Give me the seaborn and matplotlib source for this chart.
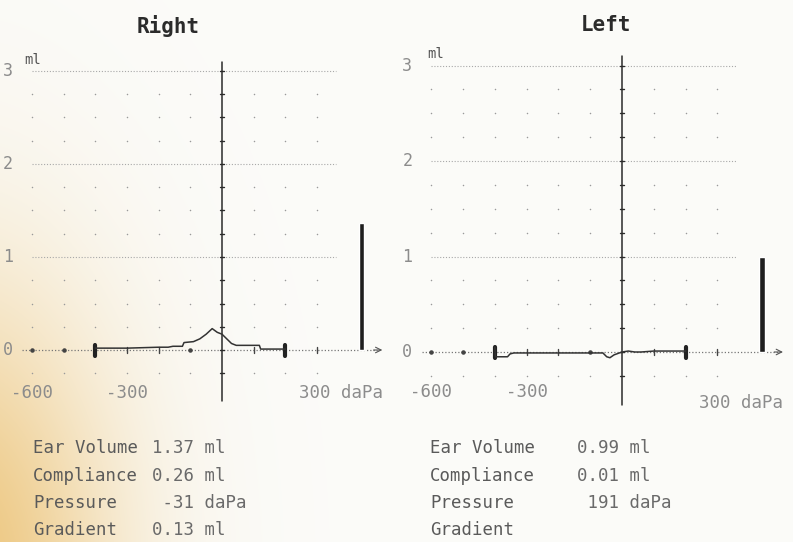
import numpy as np
import pandas as pd
import seaborn as sns
import matplotlib.pyplot as plt

# tympanogram values (pressure in daPa, compliance in ml)
right_pressure = [-400, -300, -200, -170, -155, -125, -120, -90, -70, -50, -31, -15, 0, 15, 30, 45, 80, 118, 122, 160, 200]
right_ml = [0.02, 0.02, 0.03, 0.03, 0.04, 0.04, 0.08, 0.09, 0.12, 0.17, 0.23, 0.19, 0.17, 0.12, 0.07, 0.05, 0.05, 0.05, 0.01, 0.01, 0.01]
left_pressure = [-400, -398, -360, -352, -340, -300, -200, -100, -60, -48, -38, -25, 0, 20, 40, 60, 100, 150, 200]
left_ml = [0.05, -0.05, -0.05, -0.02, -0.01, -0.01, -0.01, -0.01, -0.01, -0.05, -0.06, -0.03, 0.0, 0.01, 0.0, 0.0, 0.01, 0.01, 0.01]
right_ear_volume = 1.37
left_ear_volume = 0.99

stat_names = ['Ear Volume', 'Compliance', 'Pressure', 'Gradient']
right_stats = ['1.37 ml', '0.26 ml', ' -31 daPa', '0.13 ml']
left_stats = ['0.99 ml', '0.01 ml', ' 191 daPa', '']

y_ticklabels = ['0', '1', '2', '3']
x_ticklabels = ['-600', '-300', '300 daPa']

W, H = 793, 542
MONO = 'DejaVu Sans Mono'
INK = '#2b2b2b'
FADED = '#8c8c8c'

sns.set_style('white')
plt.rcParams['font.family'] = [MONO]


def add_panel(fig, x0_px, px_dapa, y0_px, px_ml, xlim, ylim):
    # place an axes so that data units map onto the photo's pixel scale
    left = x0_px + xlim[0] * px_dapa
    right = x0_px + xlim[1] * px_dapa
    top = y0_px - ylim[1] * px_ml
    bottom = y0_px - ylim[0] * px_ml
    ax = fig.add_axes([left / W, 1 - bottom / H, (right - left) / W, (bottom - top) / H])
    ax.set_xlim(xlim)
    ax.set_ylim(ylim)
    ax.set_facecolor('none')
    ax.axis('off')
    return ax


def draw_ear(ax, pressure, ml, ear_volume, title, title_x, title_y, label_y, daPa_y, ml_x):
    # dotted grid dots
    gx = [x for x in range(-600, 301, 100) if x != 0]
    gy = [y for y in np.arange(-0.25, 2.8, 0.25) if abs(y - round(y)) > 0.01]
    px, py = np.meshgrid(gx, gy)
    ax.scatter(px.ravel(), py.ravel(), s=1.2, color='#9a9a9a', linewidths=0, zorder=1)

    # dotted level lines
    for lvl in (1, 2, 3):
        ax.plot([-600, 360], [lvl, lvl], ls=(0, (1, 1.6)), lw=0.8, color='#a8a8a8', zorder=1)
    ax.plot([-630, 490], [0, 0], ls=(0, (1, 1.6)), lw=0.9, color='#777777', zorder=1)
    ax.annotate('', xy=(515, 0), xytext=(470, 0),
                arrowprops=dict(arrowstyle='->', lw=0.8, color='#555555'))

    # vertical pressure-zero axis with ticks
    ax.plot([0, 0], [-0.55, 3.1], lw=1.1, color=INK, zorder=2)
    for t in np.arange(-0.25, 3.01, 0.25):
        ax.plot([-7, 7], [t, t], lw=1.0, color=INK, zorder=2)

    # marks along the pressure axis
    for xm in (-300, -200, 100, 300):
        ax.plot([xm, xm], [-0.03, 0.03], lw=1.0, color='#444444', zorder=2)
    for xm in (-400, 200):
        ax.plot([xm, xm], [-0.06, 0.05], lw=3.0, color='#222222', zorder=3)
    ax.scatter([-600, -500, -100], [0, 0, 0], s=5, color='#444444', zorder=2)

    # measured curve
    df = pd.DataFrame({'pressure': pressure, 'ml': ml})
    sns.lineplot(data=df, x='pressure', y='ml', ax=ax, sort=False, estimator=None,
                 color='#333333', linewidth=1.1, zorder=3)

    # ear volume bar
    ax.bar([440], [ear_volume], width=17, color='#1e1e1e', zorder=3)

    # labels
    for i, lab in enumerate(y_ticklabels):
        ax.text(-675, i, lab, ha='center', va='center', fontsize=12, color=FADED)
    ax.text(ml_x, 3.12, 'ml', ha='left', va='center', fontsize=10, color='#555555')
    ax.text(-600, label_y, x_ticklabels[0], ha='center', va='center', fontsize=12.5, color=FADED)
    ax.text(-300, label_y, x_ticklabels[1], ha='center', va='center', fontsize=12.5, color=FADED)
    ax.text(242, daPa_y, x_ticklabels[2], ha='left', va='center', fontsize=12.5, color=FADED)
    ax.text(title_x, title_y, title, ha='center', va='center', fontsize=15, fontweight='bold', color=INK)


fig = plt.figure(figsize=(W / 100, H / 100), dpi=100)

# paper background with the yellow stain at lower left
bg = fig.add_axes([0, 0, 1, 1], zorder=-5)
yy, xx = np.mgrid[0:H, 0:W]
stain = np.exp(-(((xx + 40) / 155.0) ** 2 + ((yy - 580) / 290.0) ** 2))
paper = np.array([0.985, 0.985, 0.975])
yellow = np.array([0.93, 0.78, 0.50])
img = paper * (1 - stain[..., None]) + yellow * stain[..., None]
bg.imshow(img, aspect='auto', extent=[0, W, H, 0])
bg.axis('off')

ax_r = add_panel(fig, 222, 0.3167, 350, 93.0, (-700, 520), (-0.6, 3.7))
ax_l = add_panel(fig, 622, 0.318, 352, 95.5, (-700, 530), (-0.6, 3.6))

draw_ear(ax_r, right_pressure, right_ml, right_ear_volume, 'Right', -170, 3.48, -0.46, -0.46, -625)
draw_ear(ax_l, left_pressure, left_ml, left_ear_volume, 'Left', -50, 3.42, -0.42, -0.53, -612)

# printed statistics
rows_y = [448, 476, 503, 530]
for name, rv, lv, y in zip(stat_names, right_stats, left_stats, rows_y):
    fig.text(33 / W, 1 - y / H, name, ha='left', va='center', fontsize=12.5, color='#5a5a5a')
    fig.text(152 / W, 1 - y / H, rv, ha='left', va='center', fontsize=12.5, color='#6a6a6a')
    fig.text(430 / W, 1 - y / H, name, ha='left', va='center', fontsize=12.5, color='#5a5a5a')
    fig.text(577 / W, 1 - y / H, lv, ha='left', va='center', fontsize=12.5, color='#6a6a6a')

fig.savefig('out.png', dpi=100)
